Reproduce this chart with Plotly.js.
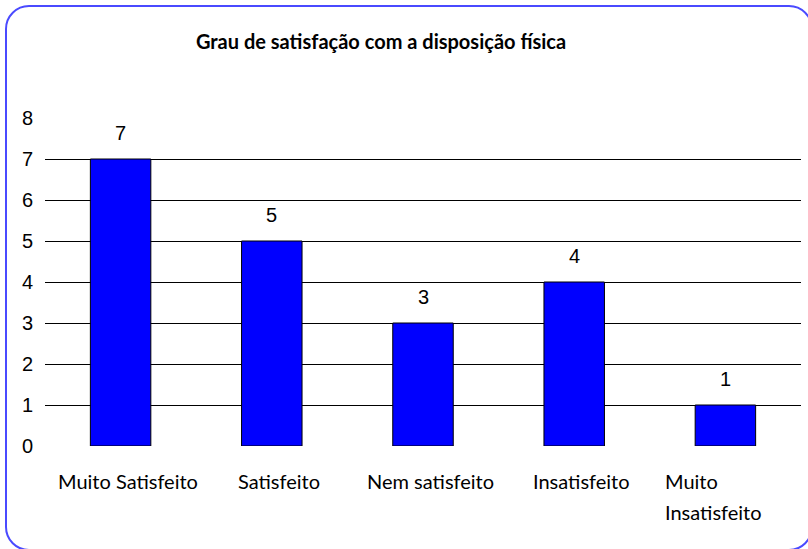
<!DOCTYPE html>
<html>
<head>
<meta charset="utf-8">
<script src="https://cdn.plot.ly/plotly-3.0.1.min.js"></script>
<style>
html,body{margin:0;padding:0;width:808px;height:549px;overflow:hidden;background:#fff;}
#frame{position:absolute;left:5px;top:5px;width:808px;height:546px;border:2px solid #4a4aff;border-radius:24px;box-sizing:border-box;}
#chart{position:absolute;left:0;top:0;width:808px;height:549px;}
</style>
</head>
<body>
<div id="frame"></div>
<div id="chart"></div>
<script>
const categories = ["Muito Satisfeito", "Satisfeito", "Nem satisfeito", "Insatisfeito", "Muito<br>Insatisfeito"];
const values = [7, 5, 3, 4, 1];
const yTicks = [0, 1, 2, 3, 4, 5, 6, 7, 8];
const gridValues = [1, 2, 3, 4, 5, 6, 7];
const chartTitle = "Grau de satisfação com a disposição física";

const catFont = {family: "Lato, 'Open Sans', sans-serif", size: 20, color: "#000"};
const numFont = {family: "'Liberation Sans', Arial, sans-serif", size: 20, color: "#000"};

const annotations = [];
values.forEach((v, i) => {
  annotations.push({x: i, y: v, xref: "x", yref: "y", text: String(v), showarrow: false,
    yshift: 26, font: numFont});
});
categories.forEach((c, i) => {
  const lines = c.split("<br>");
  const multi = lines.length > 1;
  lines.forEach((ln, j) => {
    annotations.push({x: i, y: 0, xref: "x", yref: "paper", text: ln, showarrow: false,
      xanchor: multi ? "left" : "center", xshift: multi ? -62 : 7,
      yanchor: "middle", yshift: -35 - 31 * j, font: catFont});
  });
});

// horizontal gridlines, nudged half a pixel so they render crisp
const shapes = gridValues.map(g => ({type: "line", xref: "paper", yref: "y", ysizemode: "pixel", yanchor: g,
  x0: 0, x1: 1, y0: -0.5, y1: -0.5,
  line: {color: "#000", width: 1}, layer: "below"}));

const trace = {
  type: "bar",
  x: categories.map((c, i) => i),
  y: values,
  width: 0.4,
  marker: {color: "#0000ff", line: {color: "#000", width: 1}},
  hoverinfo: "skip"
};

const layout = {
  width: 808, height: 549,
  margin: {l: 45, r: 7, t: 118, b: 103},
  paper_bgcolor: "rgba(0,0,0,0)",
  plot_bgcolor: "rgba(0,0,0,0)",
  showlegend: false,
  title: {text: "<b>" + chartTitle + "</b>", x: 381 / 808, xref: "container", xanchor: "center",
    y: 1 - 42 / 549, yref: "container", yanchor: "middle",
    font: {family: "Lato, 'Open Sans', sans-serif", size: 20, color: "#000"}},
  xaxis: {range: [-0.5, 4.5], showgrid: false, zeroline: false, showline: false,
    showticklabels: false, ticks: "", fixedrange: true},
  yaxis: {range: [0, 8], tickvals: yTicks, ticktext: yTicks.map(String), showgrid: false,
    zeroline: false, showline: false, ticks: "", ticklabelstandoff: 11, tickfont: numFont, fixedrange: true},
  shapes: shapes,
  annotations: annotations
};

Plotly.newPlot("chart", [trace], layout, {displayModeBar: false, staticPlot: true});
</script>
</body>
</html>
